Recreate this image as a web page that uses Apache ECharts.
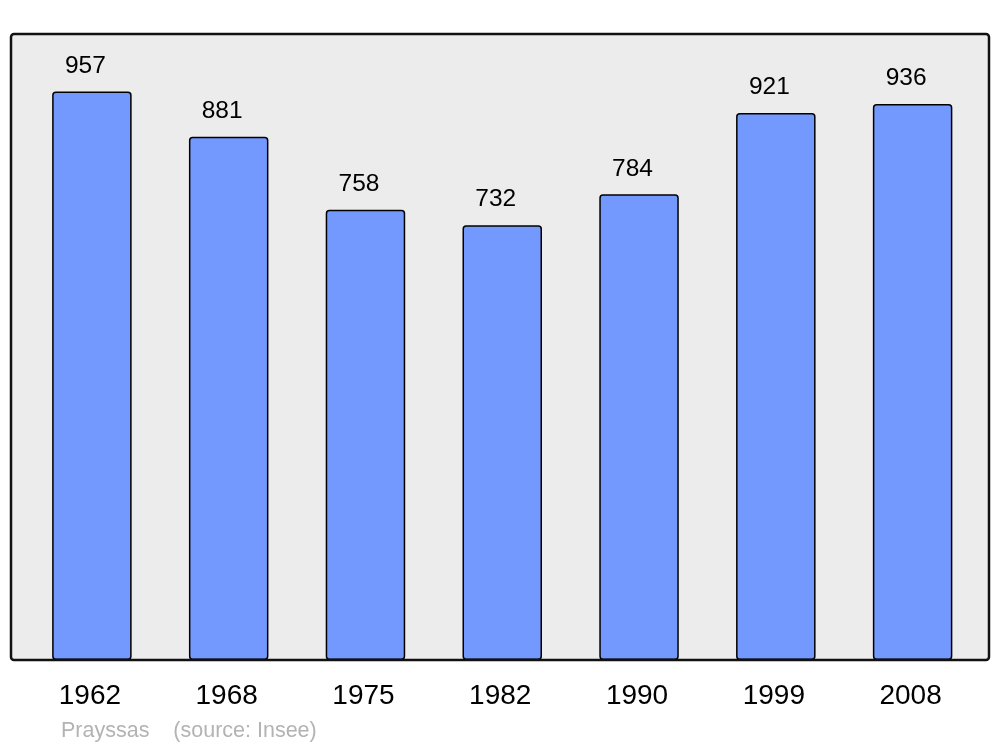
<!DOCTYPE html>
<html>
<head>
<meta charset="utf-8">
<script src="https://cdn.jsdelivr.net/npm/echarts@6/dist/echarts.min.js"></script>
<style>
html,body{margin:0;padding:0;background:#fff;}
#chart{width:1000px;height:747px;}
</style>
</head>
<body>
<div id="chart"></div>
<script>
const years = ['1962','1968','1975','1982','1990','1999','2008'];
const population = [957, 881, 758, 732, 784, 921, 936];
const footerText = 'Prayssas    (source: Insee)';

const chart = echarts.init(document.getElementById('chart'), null, {renderer: 'canvas'});
const FONT = '"Liberation Sans", Arial, sans-serif';
chart.setOption({
  animation: false,
  backgroundColor: '#ffffff',
  grid: {left: 23.5, right: 19, top: 34, bottom: 87, containLabel: false},
  xAxis: {
    type: 'category',
    data: years,
    axisLine: {show: false},
    axisTick: {show: false},
    axisLabel: {color: '#000', fontSize: 28, fontFamily: FONT, margin: 22, padding: [0, 4, 0, 0]}
  },
  yAxis: {
    type: 'value',
    min: 0,
    max: 1054,
    show: false,
    splitLine: {show: false}
  },
  series: [{
    type: 'bar',
    data: population,
    barWidth: 79.5,
    itemStyle: {color: '#7399ff', borderColor: '#000', borderWidth: 1.5, borderRadius: 3},
    label: {show: true, position: 'top', distance: 13, offset: [-6.5, 0], color: '#000', fontSize: 24.5, fontFamily: FONT},
    z: 5
  }],
  graphic: [
    {type: 'rect', z: -10, silent: true,
     shape: {x: 11, y: 34, width: 978, height: 626, r: 3},
     style: {fill: '#ececec', stroke: null}},
    {type: 'rect', z: 100, silent: true,
     shape: {x: 11, y: 34, width: 978, height: 626, r: 3},
     style: {fill: null, stroke: '#111', lineWidth: 2.5}},
    {type: 'text', left: 61, top: 720, silent: true,
     style: {text: footerText, fill: '#b3b3b3', font: '21.5px "Liberation Sans", Arial, sans-serif'}}
  ]
});
</script>
</body>
</html>
